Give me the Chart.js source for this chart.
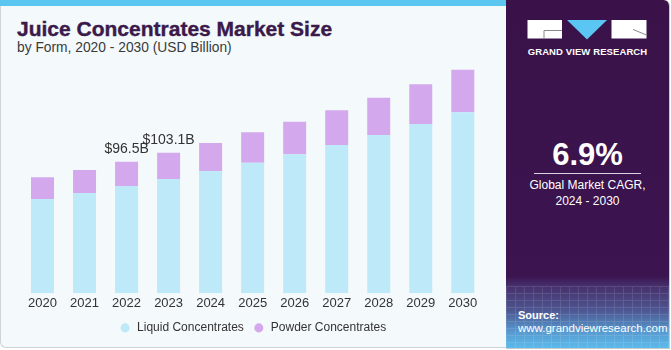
<!DOCTYPE html>
<html>
<head>
<meta charset="utf-8">
<script src="https://cdn.jsdelivr.net/npm/chart.js@4/dist/chart.umd.min.js"></script>
<style>
  html, body { margin: 0; padding: 0; width: 671px; height: 350px; overflow: hidden; background: #ffffff; }
  body { position: relative; font-family: 'Liberation Sans', Arial, sans-serif; }
  .card { position: absolute; left: 0; top: 0; width: 505px; height: 347px; background: #f4f9fc;
          border-left: 1.5px solid #cfd3d6; border-bottom: 1.5px solid #cfd3d6; border-bottom-left-radius: 6px; }
  .stripe { position: absolute; left: 0; top: 0; width: 506px; height: 5.5px; background: #5bc6ef; }
  .txt { position: absolute; line-height: 1; white-space: nowrap; }
  .title { left: 17px; top: 18px; font-size: 21px; font-weight: bold; color: #3b1a4b; -webkit-text-stroke: 0.4px #3b1a4b; }
  .subtitle { left: 17px; top: 40.5px; font-size: 13.8px; color: #3a3a3a; }
  .panel { position: absolute; left: 506px; top: 0; width: 163px; height: 348px; border-top-right-radius: 6px;
           border-right: 1px solid #c9c9c9; border-bottom: 1px solid #c9c9c9; overflow: hidden;
           background: linear-gradient(to bottom, #3a1249 0px, #3b1450 276px, #46306c 286px, #4d5590 310px, #579ad0 332px, #5cbbeb 348px); }
  .grid { position: absolute; left: 0; top: 286px; width: 163px; height: 62px; opacity: 0.12;
          background:
            repeating-linear-gradient(to right, rgba(255,255,255,0.9) 0 1px, transparent 1px 9px),
            repeating-linear-gradient(to bottom, rgba(255,255,255,0.9) 0 1px, transparent 1px 7px); }
  .cagr { left: 0; width: 163px; text-align: center; color: #ffffff; }
  #chart { position: absolute; left: 0; top: 0; }
</style>
</head>
<body>
<div class="card"></div>
<div class="stripe"></div>
<div class="txt title">Juice Concentrates Market Size</div>
<div class="txt subtitle">by Form, 2020 - 2030 (USD Billion)</div>

<div class="panel">
  <div class="grid"></div>
  <svg style="position:absolute; left:0; top:0" width="163" height="60">
    <rect x="21.5" y="20" width="34.5" height="18.5" fill="#ffffff"/>
    <polyline points="38,38.5 38,30.5 56,30.5" fill="none" stroke="#8a8a8a" stroke-width="1"/>
    <polygon points="61,20 101,20 81,39.5" fill="#5bc6f3"/>
    <rect x="105.5" y="20" width="35" height="18.5" fill="#ffffff"/>
    <line x1="127" y1="29.5" x2="140.5" y2="35" stroke="#8a8a8a" stroke-width="1"/>
  </svg>
  <div class="txt cagr" style="top:46.5px; font-size:9.5px; font-weight:bold; letter-spacing:0.1px;">GRAND VIEW RESEARCH</div>
  <div class="txt cagr" style="top:139.3px; font-size:31px; font-weight:bold;">6.9%</div>
  <div style="position:absolute; left:28px; top:172.5px; width:107px; height:1px; background:#d9d2de;"></div>
  <div class="txt cagr" style="top:179.4px; font-size:12px;">Global Market CAGR,</div>
  <div class="txt cagr" style="top:195.4px; font-size:12px;">2024 - 2030</div>
  <div class="txt" style="left:12px; top:310.3px; font-size:11px; font-weight:bold; color:#ffffff;">Source:</div>
  <div class="txt" style="left:12px; top:323.2px; font-size:11.5px; color:#ffffff;">www.grandviewresearch.com</div>
</div>

<canvas id="chart" width="506" height="350"></canvas>

<script>
/*
    DATOS
*/
const YEARS = ['2020', '2021', '2022', '2023', '2024', '2025', '2026', '2027', '2028', '2029', '2030'];
const LIQUID = [69.2, 73.6, 78.7, 83.8, 89.7, 95.8, 101.9, 108.8, 116.1, 124.2, 132.7];
const POWDER = [15.9, 16.8, 17.8, 19.3, 20.5, 22.3, 23.9, 25.4, 27.3, 29.1, 31.3];
const TOTAL_LABELS = ['', '', '$96.5B', '$103.1B', '', '', '', '', '', '', ''];

const COLORS = {
  liquid: '#bde9f8',
  powder: '#d4a8ec',
  text: '#333333'
};
const FONT = "'Liberation Sans', Arial, sans-serif";

/*
    PLUGIN: etiquetas de total sobre la barra
*/
const totalLabels = {
  id: 'totalLabels',
  afterDatasetsDraw(chart) {
    const { ctx } = chart;
    const top = chart.getDatasetMeta(chart.data.datasets.length - 1);
    ctx.save();
    ctx.font = `14px ${FONT}`;
    ctx.fillStyle = COLORS.text;
    ctx.textAlign = 'center';
    ctx.textBaseline = 'alphabetic';
    top.data.forEach((bar, i) => {
      if (!TOTAL_LABELS[i]) return;
      ctx.fillText(TOTAL_LABELS[i], bar.x, bar.y - 8.5);
    });
    ctx.restore();
  }
};

/*
    GRAFICO
*/
const ctx = document.getElementById('chart').getContext('2d');
new Chart(ctx, {
  type: 'bar',
  plugins: [totalLabels],
  data: {
    labels: YEARS,
    datasets: [
      { label: 'Liquid Concentrates', data: LIQUID, backgroundColor: COLORS.liquid, borderWidth: 0 },
      { label: 'Powder Concentrates', data: POWDER, backgroundColor: COLORS.powder, borderWidth: 0 }
    ]
  },
  options: {
    responsive: false,
    devicePixelRatio: 1,
    animation: false,
    events: [],
    categoryPercentage: 1,
    barPercentage: 0.547,
    layout: { padding: { left: 21.5, right: 22.2, top: 61.5, bottom: 6.1 } },
    scales: {
      x: {
        stacked: true,
        grid: { display: false, drawTicks: false },
        border: { display: false },
        ticks: { color: COLORS.text, padding: 2, font: { family: FONT, size: 13 } }
      },
      y: {
        stacked: true,
        display: false,
        min: 0,
        max: 170
      }
    },
    plugins: {
      tooltip: { enabled: false },
      legend: {
        position: 'bottom',
        labels: {
          usePointStyle: true,
          pointStyle: 'circle',
          boxHeight: 6.4,
          padding: 9,
          color: COLORS.text,
          font: { family: FONT, size: 12 }
        }
      }
    }
  }
});
</script>
</body>
</html>
